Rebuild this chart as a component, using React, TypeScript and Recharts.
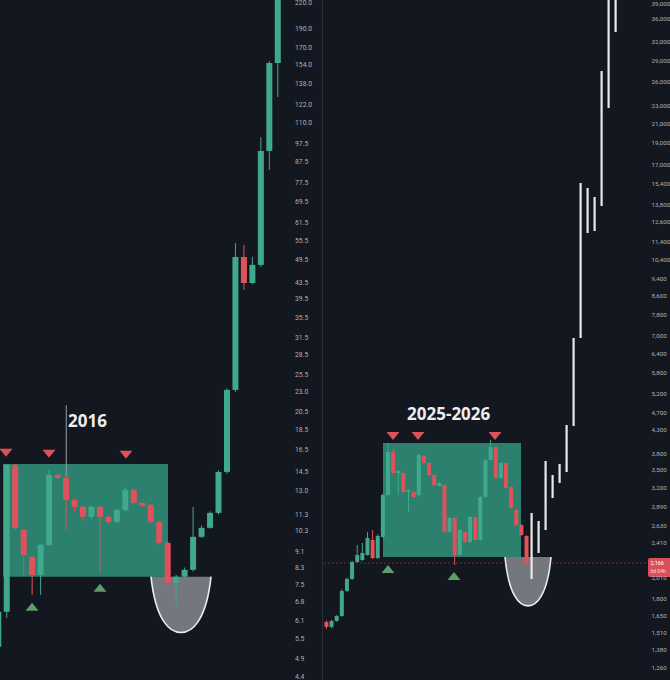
import {
  Bar,
  ComposedChart,
  ReferenceArea,
  ReferenceDot,
  ReferenceLine,
  XAxis,
  YAxis,
} from "recharts";

const BG = "#13171f";
const UP = "#40a98b";
const DOWN = "#e0525b";
const AXIS_TEXT = { fill: "#aeb1b9", fontSize: 6.8, fontFamily: "Roboto, sans-serif" };

// 2016 cycle candles: [open, close, high, low]
const candles2016: [number, number, number, number][] = [
  [5.24, 6.42, 6.5, 5.0],
  [6.42, 15.07, 15.1, 6.2],
  [15.07, 10.45, 15.1, 10.3],
  [10.33, 8.93, 10.4, 7.95],
  [8.83, 7.95, 8.9, 7.08],
  [7.95, 9.47, 9.5, 7.08],
  [9.47, 14.22, 14.6, 9.4],
  [14.22, 13.97, 14.3, 13.9],
  [13.97, 12.29, 14.1, 10.33],
  [12.29, 11.81, 12.4, 11.5],
  [11.81, 11.14, 11.9, 10.9],
  [11.14, 11.81, 11.9, 11.0],
  [11.81, 11.14, 11.9, 8.05],
  [11.14, 10.82, 11.2, 10.7],
  [10.82, 11.59, 11.7, 10.7],
  [11.59, 13.03, 13.2, 11.5],
  [13.03, 12.08, 13.1, 12.0],
  [12.08, 11.88, 12.1, 11.8],
  [11.94, 10.82, 12.0, 10.7],
  [10.82, 9.58, 10.9, 9.5],
  [9.58, 7.6, 9.7, 7.5],
  [7.6, 7.87, 7.95, 6.68],
  [7.87, 8.19, 8.3, 7.8],
  [8.19, 9.92, 11.81, 8.1],
  [9.92, 10.45, 10.6, 9.85],
  [10.45, 11.4, 11.5, 10.4],
  [11.4, 14.46, 14.6, 11.3],
  [14.46, 23.28, 23.5, 14.3],
  [23.28, 50.36, 54.6, 23.0],
  [50.36, 43.3, 54.0, 41.6],
  [43.3, 48.1, 50.4, 43.0],
  [48.1, 93.2, 101, 47.5],
  [93.2, 155.3, 157, 83.5],
  [155.3, 255, 260, 127.5],
];

// 2025-2026 candles: [open, close, high, low]
const candles2025: [number, number, number, number][] = [
  [1597, 1556, 1610, 1540],
  [1556, 1605, 1615, 1545],
  [1605, 1647, 1655, 1600],
  [1647, 1874, 1890, 1640],
  [1874, 1994, 2010, 1865],
  [1994, 2177, 2190, 1985],
  [2177, 2257, 2377, 2170],
  [2199, 2281, 2402, 2190],
  [2257, 2465, 2542, 2250],
  [2439, 2222, 2568, 2210],
  [2222, 2490, 2510, 2210],
  [2477, 3078, 3100, 2470],
  [3078, 3844, 4026, 3070],
  [3844, 3448, 3900, 3420],
  [3448, 3484, 3502, 3078],
  [3448, 3126, 3460, 3100],
  [3126, 3158, 3170, 2819],
  [3126, 3046, 3140, 3030],
  [3078, 3784, 3800, 3060],
  [3765, 3632, 3780, 3620],
  [3632, 3413, 3640, 3400],
  [3413, 3241, 3420, 3230],
  [3224, 3275, 3290, 3215],
  [3241, 2542, 3250, 2530],
  [2542, 2733, 2745, 2535],
  [2733, 2257, 2745, 2143],
  [2257, 2568, 2580, 2250],
  [2542, 2414, 2550, 2405],
  [2414, 2747, 2760, 2405],
  [2747, 2439, 2755, 2430],
  [2439, 3046, 3060, 2430],
  [3046, 3688, 3700, 3040],
  [3688, 3944, 4089, 3680],
  [3944, 3361, 3960, 3350],
  [3361, 3632, 3650, 3350],
  [3632, 3191, 3645, 3180],
  [3208, 2878, 3215, 2870],
  [2848, 2636, 2855, 2625],
  [2636, 2503, 2645, 2495],
  [2490, 2166, 2500, 2150],
];

// projected path (white bars): [low, high]
const projection: [number, number][] = [
  [1994, 2804],
  [2281, 2691],
  [2568, 3669],
  [3030, 3413],
  [3275, 3613],
  [3466, 4419],
  [4397, 6928],
  [6928, 15435],
  [11920, 15041],
  [12043, 14358],
  [13704, 27533],
  [22739, 45000],
  [33684, 45000],
];

const ticks2016 = [
  220, 190, 170, 154, 138, 122, 110, 97.5, 87.5, 77.5, 69.5, 61.5, 55.5, 49.5, 43.5, 39.5,
  35.5, 31.5, 28.5, 25.5, 23, 20.5, 18.5, 16.5, 14.5, 13, 11.3, 10.3, 9.1, 8.3, 7.5, 6.8, 6.1,
  5.5, 4.9, 4.4,
];
const ticks2025 = [
  39000, 36000, 32000, 29000, 26000, 23000, 21000, 19000, 17000, 15400, 13800, 12600, 11400,
  10400, 9400, 8600, 7800, 7000, 6400, 5800, 5200, 4700, 4300, 3800, 3500, 3200, 2890, 2630,
  2410, 2010, 1800, 1650, 1510, 1380, 1260,
];

// range boxes, bowls and markers (x in candle index, y in price)
const range2016 = { x1: 0.53, x2: 20.01, low: 7.87, high: 15.15 };
const range2025 = { x1: 11.11, x2: 38.01, low: 2234, high: 4026 };
const bowl2016 = { x1: 18.0, x2: 25.09, low: 5.69, high: 7.87 };
const bowl2025 = { x1: 34.9, x2: 43.86, low: 1735, high: 2234 };
const yearLine2016 = { x: 8, from: 14.1, to: 21.3 };
const tops2016 = [
  { x: 0.885, y: 16.15 },
  { x: 5.96, y: 16.06 },
  { x: 15.05, y: 15.97 },
];
const bottoms2016 = [
  { x: 3.96, y: 6.61 },
  { x: 11.98, y: 7.38 },
];
const tops2025 = [
  { x: 13.06, y: 4175 },
  { x: 17.93, y: 4175 },
  { x: 32.94, y: 4175 },
];
const bottoms2025 = [
  { x: 12.09, y: 2100 },
  { x: 24.95, y: 2025 },
];
const lastPrice = 2166;

const toRows = (list: [number, number, number, number][]) =>
  list.map(([open, close, high, low], i) => ({ i, open, close, high, low, range: [low, high] }));

const rows2016 = toRows(candles2016);
const rows2025 = toRows(candles2025);
const projRows = projection.map(([low, high], i) => ({ i, range: [low, high] }));

const withCommas = (v: number) => String(v).replace(/\B(?=(\d{3})+(?!\d))/g, ",");

function Candle(props: any) {
  const { x, y, width, height, payload } = props;
  if (!payload || !Number.isFinite(y) || !Number.isFinite(height)) return null;
  const { open, close, high, low } = payload;
  const k = height / (Math.log(high) - Math.log(low));
  const yOf = (v: number) => y + (Math.log(high) - Math.log(v)) * k;
  const color = close >= open ? UP : DOWN;
  const top = yOf(Math.max(open, close));
  const bottom = yOf(Math.min(open, close));
  const cx = x + width / 2;
  return (
    <g>
      <line x1={cx} x2={cx} y1={y} y2={y + height} stroke={color} strokeWidth={1} />
      <rect x={x} y={top} width={width} height={Math.max(bottom - top, 1.2)} fill={color} />
    </g>
  );
}

function GhostBar(props: any) {
  const { x, y, width, height } = props;
  if (!Number.isFinite(y) || !Number.isFinite(height)) return null;
  return <rect x={x + width / 2 - 1} y={y} width={2.2} height={height} fill="#e9e9ec" />;
}

function Bowl(props: any) {
  const { x, y, width: w, height: h } = props;
  const curve = `M${x},${y} C${x + w * 0.08},${y + h * 0.8} ${x + w * 0.32},${y + h} ${x + w / 2},${y + h} C${x + w * 0.68},${y + h} ${x + w * 0.92},${y + h * 0.8} ${x + w},${y}`;
  return (
    <g>
      <path d={`${curve} Z`} fill="#8e9096" fillOpacity={0.8} />
      <path d={curve} fill="none" stroke="#ececec" strokeWidth={1.6} />
    </g>
  );
}

const downMark = (p: any) => (
  <polygon
    points={`${p.cx - 6.5},${p.cy - 4} ${p.cx + 6.5},${p.cy - 4} ${p.cx},${p.cy + 4}`}
    fill="#d9525c"
  />
);
const upMark = (p: any) => (
  <polygon
    points={`${p.cx - 6.5},${p.cy + 4} ${p.cx + 6.5},${p.cy + 4} ${p.cx},${p.cy - 4}`}
    fill="#5f9e68"
  />
);
const title = (text: string) => (p: any) => (
  <text
    x={p.cx}
    y={p.cy}
    fill="#ededed"
    fontSize={17}
    fontWeight={700}
    fontFamily="'Open Sans', sans-serif"
  >
    {text}
  </text>
);

function PriceTag(props: any) {
  const vb = props.viewBox;
  if (!vb) return null;
  const x = vb.x + vb.width - 2;
  const y = vb.y;
  return (
    <g>
      <rect x={x} y={y - 5} width={24} height={19} rx={2} fill="#d9505a" />
      <text x={x + 2.5} y={y + 2.5} fill="#fff" fontSize={5.5} fontFamily="Roboto, sans-serif">
        {withCommas(lastPrice)}
      </text>
      <text x={x + 2.5} y={y + 10.5} fill="#ffd9dc" fontSize={5} fontFamily="Roboto, sans-serif">
        6d 04h
      </text>
    </g>
  );
}

export default function App() {
  return (
    <div
      style={{
        position: "absolute",
        left: 0,
        top: 0,
        width: 670,
        height: 680,
        background: BG,
        overflow: "hidden",
      }}
    >
      <div style={{ position: "absolute", left: 0, top: 0 }}>
        <ComposedChart width={322} height={680} data={rows2016} margin={{ top: 0, right: 0, bottom: 0, left: 0 }}>
          <XAxis dataKey="i" type="number" domain={[0.177, 34.177]} allowDataOverflow hide />
          <YAxis
            orientation="right"
            scale="log"
            domain={[4.32, 223.9]}
            allowDataOverflow
            ticks={ticks2016}
            interval={0}
            width={34}
            axisLine={false}
            tickLine={false}
            tickSize={0}
            tickMargin={7}
            tick={AXIS_TEXT}
            tickFormatter={(v: number) => v.toFixed(1)}
          />
          <ReferenceArea
            x1={range2016.x1}
            x2={range2016.x2}
            y1={range2016.low}
            y2={range2016.high}
            fill="#2e8a75"
            fillOpacity={0.92}
            stroke="none"
          />
          <ReferenceArea
            x1={bowl2016.x1}
            x2={bowl2016.x2}
            y1={bowl2016.low}
            y2={bowl2016.high}
            shape={Bowl}
          />
          <ReferenceLine
            segment={[
              { x: yearLine2016.x, y: yearLine2016.from },
              { x: yearLine2016.x, y: yearLine2016.to },
            ]}
            stroke="#9a9da5"
            strokeWidth={1}
          />
          <Bar dataKey="range" barSize={6} shape={Candle} isAnimationActive={false} />
          {tops2016.map((m) => (
            <ReferenceDot key={`t${m.x}`} x={m.x} y={m.y} shape={downMark} />
          ))}
          {bottoms2016.map((m) => (
            <ReferenceDot key={`b${m.x}`} x={m.x} y={m.y} shape={upMark} />
          ))}
          <ReferenceDot x={8.21} y={18.8} shape={title("2016")} />
        </ComposedChart>
      </div>

      <div style={{ position: "absolute", left: 322, top: 0, width: 1, height: 680, background: "#2a2f3a" }} />

      <div style={{ position: "absolute", left: 323, top: 0 }}>
        <ComposedChart width={347} height={680} data={rows2025} margin={{ top: 0, right: 0, bottom: 0, left: 0 }}>
          <XAxis dataKey="i" type="number" domain={[-0.585, 63.16]} allowDataOverflow hide />
          <YAxis
            orientation="right"
            scale="log"
            domain={[1183, 39740]}
            allowDataOverflow
            ticks={ticks2025}
            interval={0}
            width={20}
            axisLine={false}
            tickLine={false}
            tickSize={0}
            tickMargin={1.5}
            tick={{ ...AXIS_TEXT, fontSize: 6.2 }}
            tickFormatter={(v: number) => withCommas(v)}
          />
          <ReferenceLine
            y={lastPrice}
            stroke="#d9505a"
            strokeOpacity={0.55}
            strokeDasharray="2 2"
            strokeWidth={0.8}
            label={<PriceTag />}
          />
          <ReferenceArea
            x1={range2025.x1}
            x2={range2025.x2}
            y1={range2025.low}
            y2={range2025.high}
            fill="#2e8a75"
            fillOpacity={0.92}
            stroke="none"
          />
          <ReferenceArea
            x1={bowl2025.x1}
            x2={bowl2025.x2}
            y1={bowl2025.low}
            y2={bowl2025.high}
            shape={Bowl}
          />
          <Bar dataKey="range" barSize={4} shape={Candle} isAnimationActive={false} />
          {tops2025.map((m) => (
            <ReferenceDot key={`t${m.x}`} x={m.x} y={m.y} shape={downMark} />
          ))}
          {bottoms2025.map((m) => (
            <ReferenceDot key={`b${m.x}`} x={m.x} y={m.y} shape={upMark} />
          ))}
          <ReferenceDot x={15.8} y={4535} shape={title("2025-2026")} />
        </ComposedChart>
      </div>

      <div style={{ position: "absolute", left: 323, top: 0 }}>
        <ComposedChart width={327} height={680} data={projRows} margin={{ top: 0, right: 0, bottom: 0, left: 0 }}>
          <XAxis dataKey="i" type="number" domain={[-29.71, 17.0]} allowDataOverflow hide />
          <YAxis scale="log" domain={[1183, 39740]} allowDataOverflow hide />
          <Bar dataKey="range" barSize={2} shape={GhostBar} isAnimationActive={false} />
        </ComposedChart>
      </div>
    </div>
  );
}
